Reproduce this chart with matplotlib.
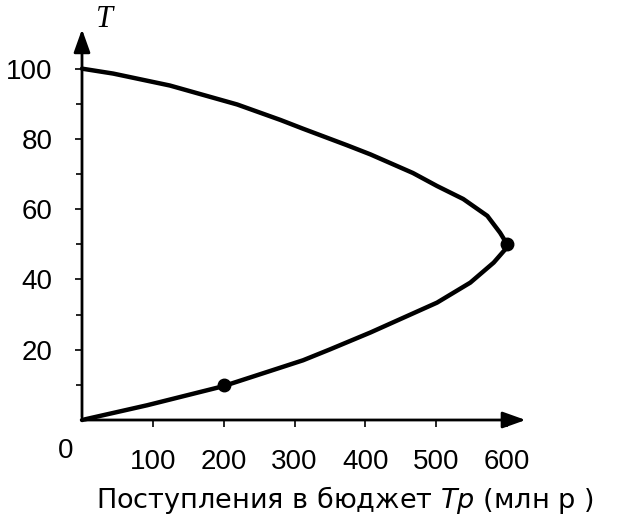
import matplotlib
matplotlib.use("Agg")
from matplotlib import pyplot as plt

plt.rcParams['font.family'] = ['Liberation Sans', 'DejaVu Sans']
plt.rcParams['mathtext.fontset'] = 'custom'
plt.rcParams['mathtext.it'] = 'DejaVu Sans:italic'

# Кривая Лаффера: ставка налога T (%) и поступления в бюджет Tp (млн р)
# нижняя ветвь (T от 0 до 50)
lowTp = [0, 92, 199, 280, 312, 350, 407, 501, 548, 581, 597, 600]
lowT = [0, 4.2, 9.6, 14.9, 17.0, 20.1, 24.9, 33.4, 39.1, 44.8, 48.5, 50]
# верхняя ветвь (T от 50 до 100)
upTp = [600, 590, 572, 538, 501, 467, 407, 374, 312, 280, 219, 124, 44, 0]
upT = [50, 53.3, 58.1, 62.9, 66.6, 70.3, 75.6, 78.2, 82.9, 85.4, 89.8, 95.2, 98.6, 100]

# отмеченные точки
dotTp = [200, 600]
dotT = [10, 50]

xticks = [100, 200, 300, 400, 500, 600]
yticks = [20, 40, 60, 80, 100]

fig = plt.figure(figsize=(6.25, 5.29), dpi=100)
ax = fig.add_axes([82 / 625, 109 / 529, 445 / 625, 390 / 529])
ax.set_xlim(0, 628)
ax.set_ylim(0, 111)

for s in ax.spines.values():
    s.set_visible(False)

# оси со стрелками
ax.annotate("", xy=(630, 0), xytext=(0, 0),
            arrowprops=dict(arrowstyle="-|>,head_length=1.4,head_width=0.5",
                            color="black", lw=2), annotation_clip=False)
ax.annotate("", xy=(0, 112), xytext=(0, 0),
            arrowprops=dict(arrowstyle="-|>,head_length=1.4,head_width=0.5",
                            color="black", lw=2), annotation_clip=False)

ax.plot(lowTp + upTp, lowT + upT, color="black", lw=3.2,
        solid_capstyle="round", solid_joinstyle="round", clip_on=False)
ax.plot(dotTp, dotT, "o", color="black", markersize=9, clip_on=False)

ax.set_xticks(xticks)
ax.set_xticklabels([str(t) for t in xticks])
ax.set_yticks(yticks)
ax.set_yticklabels([str(t) for t in yticks])
ax.set_yticks([10, 30, 50, 70, 90], minor=True)
ax.tick_params(axis="x", direction="out", length=5, width=1.2, pad=16,
               labelsize=20)
ax.tick_params(axis="y", direction="out", length=5, width=1.2, pad=16,
               labelsize=20)
ax.tick_params(axis="y", which="minor", direction="out", length=4, width=1.2)

ax.text(-12, -5, "0", fontsize=20, ha="right", va="top")
ax.text(32, 114, "T", fontsize=22, ha="center", va="center",
        family="Liberation Serif", style="italic")

fig.text(345 / 625, 1 - 500 / 529, "Поступления в бюджет $Tp$ (млн р )",
         fontsize=19.5, ha="center", va="center", family="DejaVu Sans")

fig.savefig("out.png", dpi=100)
